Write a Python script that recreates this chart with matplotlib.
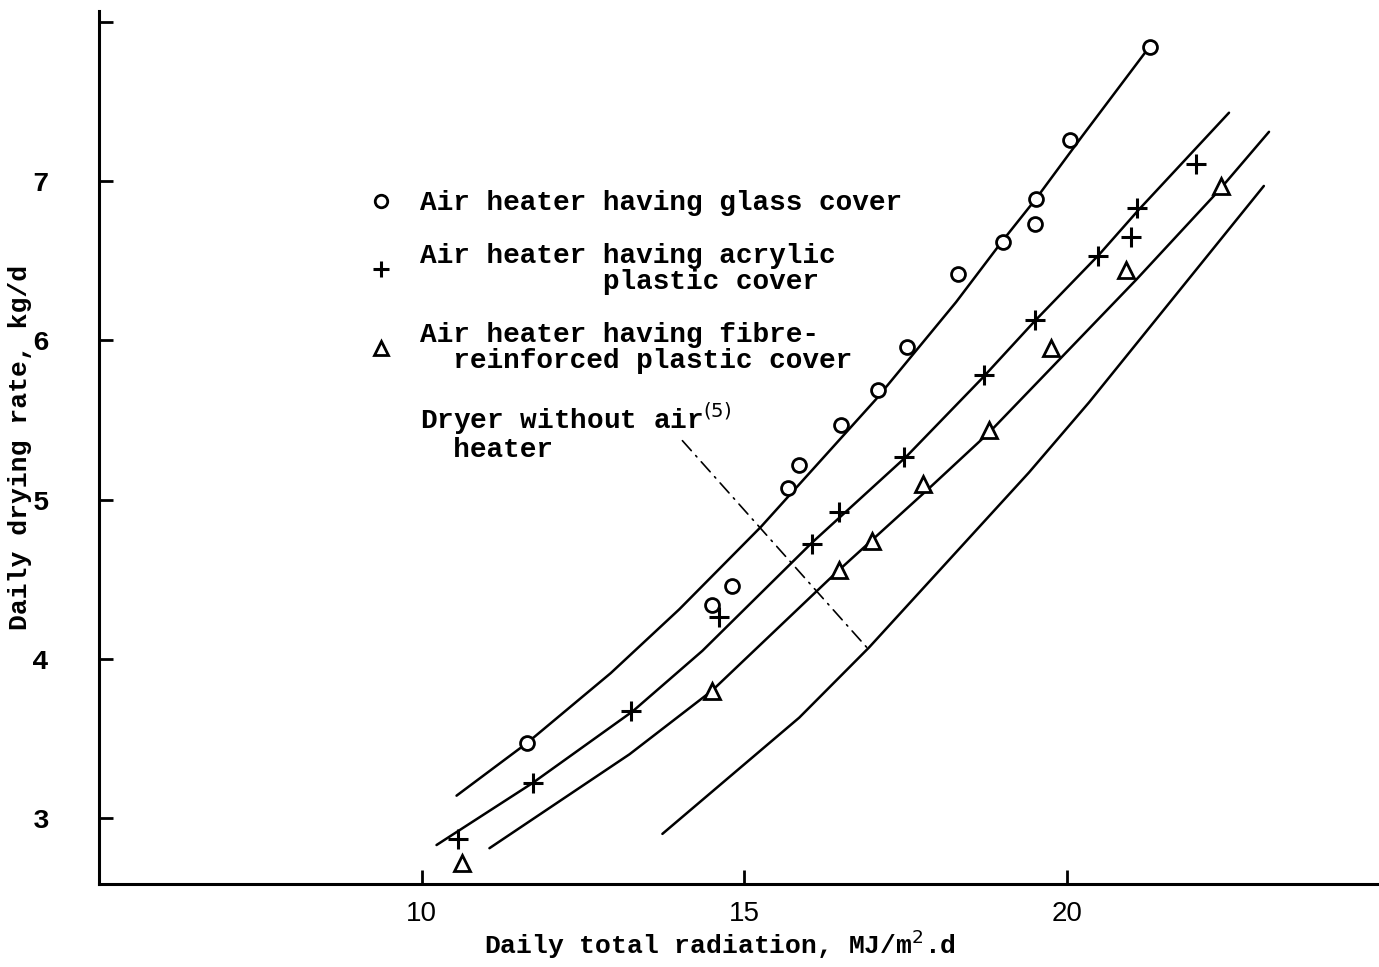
import matplotlib
matplotlib.use('Agg')
import matplotlib.pyplot as plt
from matplotlib.lines import Line2D

# measured points (daily total radiation MJ/m2.d, daily drying rate kg/d)
glass_x = [11.63, 14.50, 14.81, 15.68, 15.84, 16.49, 17.07, 17.52, 18.31, 19.01, 19.50, 19.52, 20.05, 21.28]
glass_y = [3.47, 4.34, 4.46, 5.07, 5.22, 5.47, 5.69, 5.96, 6.42, 6.62, 6.73, 6.89, 7.26, 7.84]

acrylic_x = [10.57, 11.72, 13.25, 14.61, 16.05, 16.46, 17.48, 18.72, 19.50, 20.48, 20.99, 21.08, 22.00]
acrylic_y = [2.87, 3.22, 3.67, 4.26, 4.72, 4.92, 5.27, 5.78, 6.13, 6.53, 6.65, 6.83, 7.11]

fibre_x = [10.62, 14.50, 16.47, 16.98, 17.77, 18.79, 19.75, 20.91, 22.38]
fibre_y = [2.72, 3.80, 4.56, 4.74, 5.10, 5.44, 5.95, 6.44, 6.97]

# fitted curves as drawn in the figure
glass_curve_x = [10.54, 11.63, 12.93, 13.99, 15.26, 17.04, 18.28, 18.99, 19.52, 20.23, 21.27]
glass_curve_y = [3.14, 3.47, 3.91, 4.31, 4.83, 5.63, 6.24, 6.62, 6.89, 7.28, 7.84]

acrylic_curve_x = [10.23, 11.72, 13.27, 14.35, 16.05, 17.51, 18.68, 19.52, 20.50, 21.11, 22.51]
acrylic_curve_y = [2.83, 3.22, 3.67, 4.05, 4.73, 5.27, 5.76, 6.13, 6.54, 6.82, 7.43]

fibre_curve_x = [11.05, 13.22, 14.50, 16.42, 17.86, 18.79, 21.07, 22.35, 23.13]
fibre_curve_y = [2.81, 3.40, 3.80, 4.54, 5.07, 5.42, 6.38, 6.94, 7.31]

dryer_curve_x = [13.73, 15.85, 16.93, 19.41, 20.34, 23.05]
dryer_curve_y = [2.90, 3.63, 4.07, 5.17, 5.61, 6.97]

x_ticks = [10, 15, 20]
y_ticks = [3, 4, 5, 6, 7, 8]
y_ticklabels = ['3', '4', '5', '6', '7', '']

# leader line from the dryer label to its curve
leader_start = (14.04, 5.37)
leader_end = (16.90, 4.07)

mono = 'Liberation Mono'

fig = plt.figure(figsize=(13.79, 9.67), dpi=100)
ax = fig.add_axes([0.0718, 0.0858, 0.928, 0.903])

lw = 1.8
for cx, cy in [(glass_curve_x, glass_curve_y), (acrylic_curve_x, acrylic_curve_y),
               (fibre_curve_x, fibre_curve_y), (dryer_curve_x, dryer_curve_y)]:
    ax.plot(cx, cy, color='black', lw=lw, solid_capstyle='round', solid_joinstyle='round')

ax.plot(glass_x, glass_y, linestyle='none', marker='o', ms=10, mfc='white', mec='black', mew=2)
ax.plot(acrylic_x, acrylic_y, linestyle='none', marker='+', ms=15, mec='black', mew=2.2)
ax.plot(fibre_x, fibre_y, linestyle='none', marker='^', ms=11, mfc='white', mec='black', mew=2)

ax.annotate('', xy=leader_end, xytext=leader_start,
            arrowprops=dict(arrowstyle='-', linestyle=(0, (8, 4, 1, 4)), lw=1.2, color='black',
                            shrinkA=0, shrinkB=0))

handles = [
    Line2D([], [], linestyle='none', marker='o', ms=9, mfc='white', mec='black', mew=2),
    Line2D([], [], linestyle='none', marker='+', ms=12, mec='black', mew=2.2),
    Line2D([], [], linestyle='none', marker='^', ms=10, mfc='white', mec='black', mew=2),
    Line2D([], [], linestyle='none'),
]
labels = [
    'Air heater having glass cover',
    'Air heater having acrylic\n           plastic cover',
    'Air heater having fibre-\n  reinforced plastic cover',
    'Dryer without air$^{(5)}$\n  heater',
]
leg = ax.legend(handles, labels, loc='upper left', bbox_to_anchor=(0.19, 0.823),
                frameon=False, prop={'family': mono, 'size': 20, 'weight': 'bold'},
                handlelength=1.0, handletextpad=0.9, labelspacing=0.95)
for t in leg.get_texts():
    t.set_linespacing(1.02)

ax.set_xlim(5, 24.83)
ax.set_ylim(2.585, 8.07)
ax.set_xticks(x_ticks)
ax.set_xticklabels([str(v) for v in x_ticks], family='Liberation Sans', fontsize=20)
ax.set_yticks(y_ticks)
ax.set_yticklabels(y_ticklabels, family=mono, fontsize=20, weight='bold')
ax.tick_params(axis='both', direction='in', length=10, width=2)
ax.tick_params(axis='x', pad=12)
ax.tick_params(axis='y', pad=36)

for side in ['top', 'right']:
    ax.spines[side].set_visible(False)
for side in ['left', 'bottom']:
    ax.spines[side].set_linewidth(2.2)

ax.set_xlabel('Daily total radiation, MJ/m$^2$.d', family=mono, fontsize=19, weight='bold')
ax.set_ylabel('Daily drying rate, kg/d', family=mono, fontsize=19, weight='bold')
ax.xaxis.set_label_coords(0.485, -0.05)
ax.yaxis.set_label_coords(-0.052, 0.5)

fig.savefig('out.png', dpi=100, facecolor='white')
